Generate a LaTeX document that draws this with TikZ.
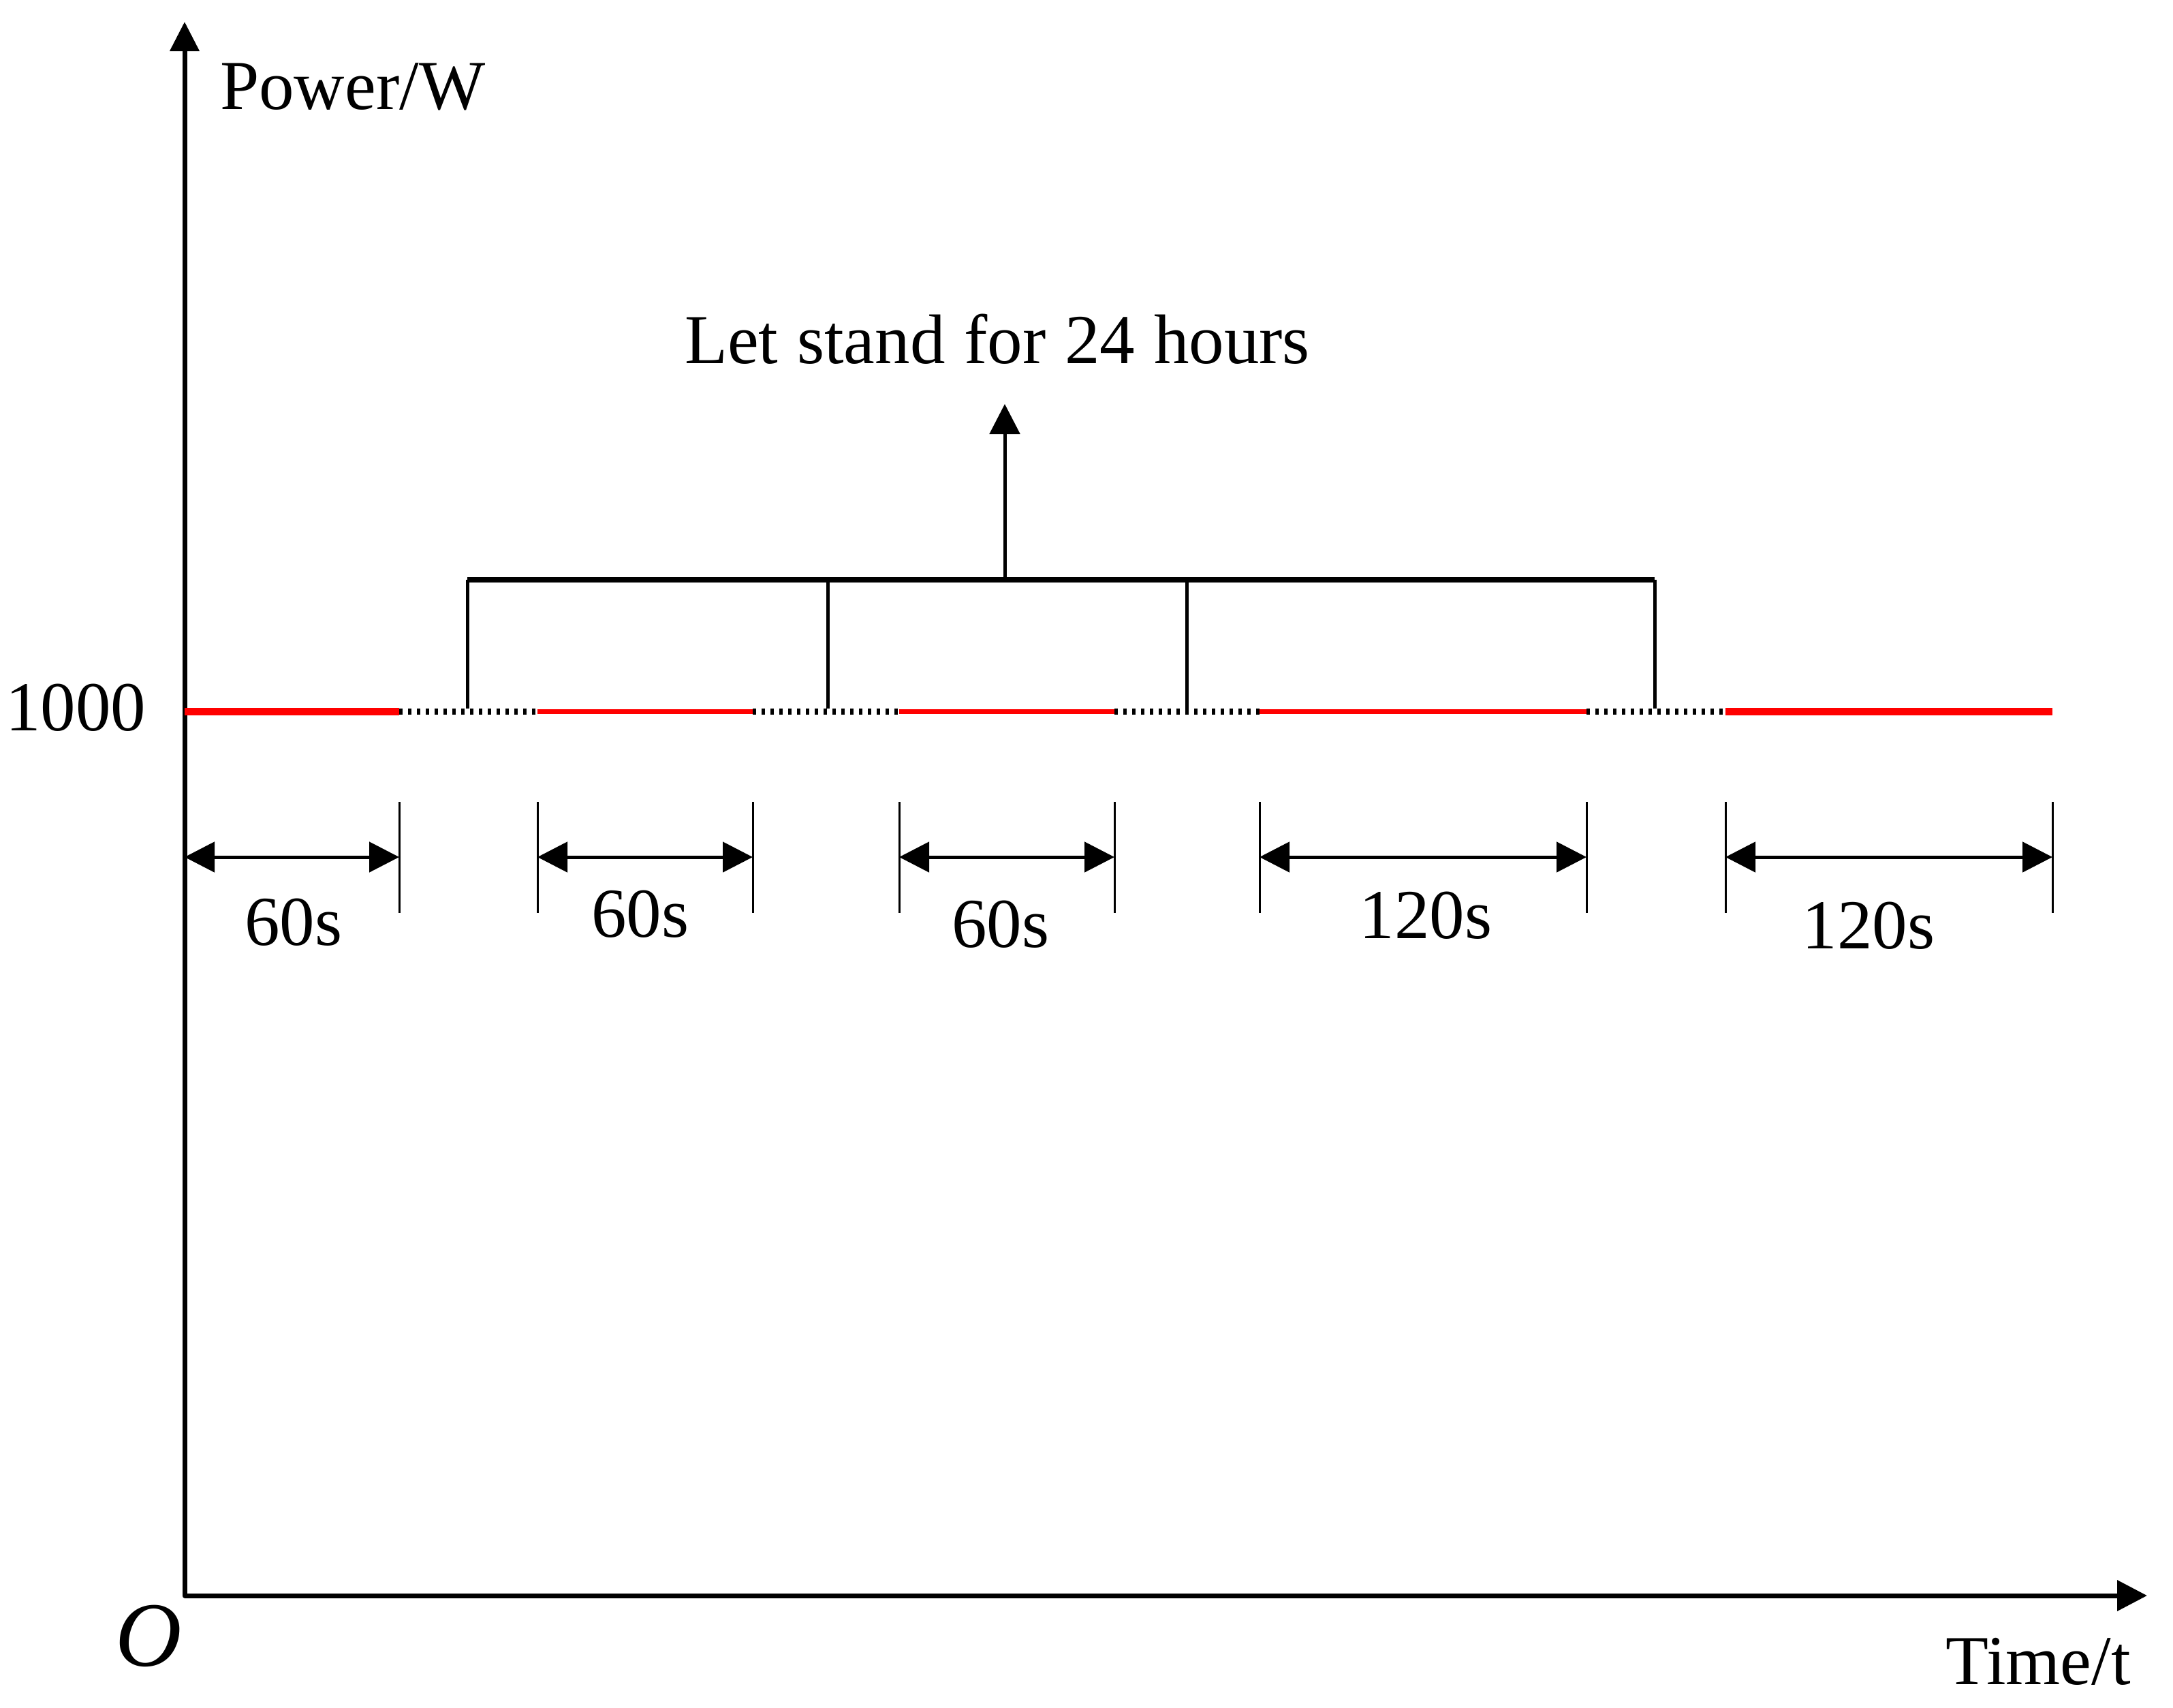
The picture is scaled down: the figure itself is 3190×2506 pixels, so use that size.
\documentclass[tikz,border=0pt]{standalone}
\usepackage{fontspec}
\setmainfont{Liberation Serif}
\usetikzlibrary{arrows.meta}
\begin{document}
\begin{tikzpicture}[x=1pt,y=-1pt,
  lbl/.style={inner sep=0pt, font=\fontsize{103}{120}\selectfont},
  bigtip/.tip={Triangle[length=44pt,width=44pt]},
  axisline/.style={line width=7pt, line join=round},
  redseg/.style={red, line width=7pt},
  redthick/.style={red, line width=11pt},
  dotseg/.style={line width=9pt, dash pattern=on 5pt off 8pt},
  brk/.style={line width=5pt},
  brktop/.style={line width=8pt},
  dimline/.style={line width=5pt, bigtip-bigtip},
  tickline/.style={line width=3pt}
]
\useasboundingbox (0,0) rectangle (3190,2506);
% axes
\coordinate (O) at (271,2342);
\coordinate (ytip) at (271,32);
\coordinate (xtip) at (3152,2342);
\draw[axisline, {Triangle[length=43pt,width=42pt]}-bigtip] (ytip) -- (O) -- (xtip);
\node[lbl, anchor=base west] (ylab) at (323,160) {Power/W};
\node[lbl, anchor=base east] (xlab) at (3128,2472) {Time/t};
\node[inner sep=0pt, anchor=base, font=\fontsize{135}{150}\selectfont\itshape] (olab) at (218,2445) {O};
\node[lbl, anchor=base west] (plab) at (8,1072) {1000};
% power profile
\foreach \n/\x in {a/271,b/586,c/789,d/1105,e/1320,f/1636,g/1849,h/2329,i/2533,j/3013}{
  \coordinate (p\n) at (\x,1044);
  \coordinate (t\n) at (\x,1177);
  \coordinate (u\n) at (\x,1340);
  \coordinate (m\n) at (\x,1258);
}
\draw[redthick] (pa) -- (pb);
\draw[dotseg] (pb) -- (pc);
\draw[redseg] (pc) -- (pd);
\draw[dotseg] (pd) -- (pe);
\draw[redseg] (pe) -- (pf);
\draw[dotseg] (pf) -- (pg);
\draw[redseg] (pg) -- (ph);
\draw[dotseg] (ph) -- (pi);
\draw[redthick] (pi) -- (pj);
% bracket
\foreach \n/\x in {1/686,2/1215,3/1742,4/2429}{
  \coordinate (bt\n) at (\x,851);
  \coordinate (bb\n) at (\x,1040);
  \draw[brk] (bb\n) -- (bt\n);
}
\draw[brktop] (bt1) -- (bt4);
\coordinate (bmid) at (1475,851);
\node[lbl, anchor=base] (stand) at (1464,533) {Let\hspace{0.27em}stand\hspace{0.27em}for\hspace{0.27em}24\hspace{0.27em}hours};
\coordinate (atip) at (1475,593);
\draw[brk, -bigtip] (bmid) -- (atip);
% dimension ticks
\foreach \n in {b,c,d,e,f,g,h,i,j}{
  \draw[tickline] (t\n) -- (u\n);
}
\draw[dimline] (ma) -- (mb);
\draw[dimline] (mc) -- (md);
\draw[dimline] (me) -- (mf);
\draw[dimline] (mg) -- (mh);
\draw[dimline] (mi) -- (mj);
\node[lbl, anchor=base] (l1) at (431,1387) {60s};
\node[lbl, anchor=base] (l2) at (940,1375) {60s};
\node[lbl, anchor=base] (l3) at (1469,1390) {60s};
\node[lbl, anchor=base] (l4) at (2093,1377) {120s};
\node[lbl, anchor=base] (l5) at (2743,1392) {120s};
\end{tikzpicture}
\end{document}
